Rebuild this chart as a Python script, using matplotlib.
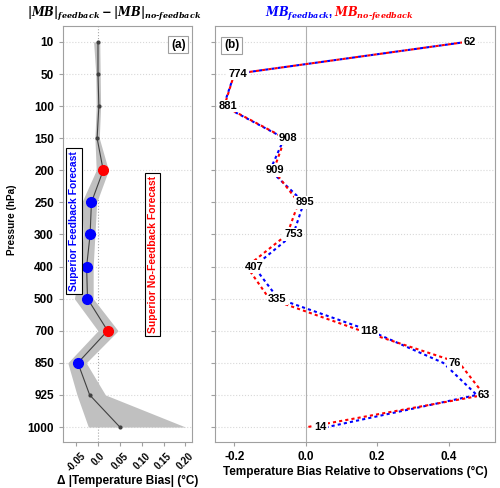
import matplotlib
matplotlib.use("Agg")
import matplotlib.pyplot as plt
import numpy as np

plt.rcParams["font.family"] = ["Liberation Sans", "DejaVu Sans"]
plt.rcParams["font.weight"] = "bold"
plt.rcParams["mathtext.fontset"] = "dejavuserif"

# ==========================================
# DATA
# ==========================================

levels = ["10", "50", "100", "150", "200", "250", "300", "400", "500", "700", "850", "925", "1000"]

# panel (a): |MB|feedback - |MB|no-feedback
diff_mean = [0.0, 0.0, 0.002, -0.002, 0.012, -0.015, -0.018, -0.026, -0.024, 0.022, -0.046, -0.019, 0.05]
diff_low = [-0.010, -0.005, -0.004, -0.007, -0.004, -0.037, -0.034, -0.040, -0.054, 0.0, -0.069, -0.048, -0.022]
diff_high = [0.004, 0.005, 0.006, 0.003, 0.024, -0.003, -0.007, -0.011, -0.011, 0.046, -0.027, 0.017, 0.20]
significant = [False, False, False, False, True, True, True, True, True, True, True, False, False]

# panel (b): mean bias vs observations
mb_feedback = [0.45, -0.20, -0.23, -0.06, -0.10, -0.005, -0.035, -0.145, -0.077, 0.18, 0.385, 0.479, 0.06]
mb_nofeedback = [0.45, -0.20, -0.228, -0.058, -0.09, -0.02, -0.052, -0.165, -0.102, 0.155, 0.43, 0.50, 0.005]
obs_counts = [62, 774, 881, 908, 909, 895, 753, 407, 335, 118, 76, 63, 14]

ypos = np.arange(len(levels))

# ==========================================
# FIGURE
# ==========================================

fig = plt.figure(figsize=(5.0, 4.88), dpi=100)
ax1 = fig.add_axes([0.126, 0.094, 0.258, 0.853])
ax2 = fig.add_axes([0.430, 0.094, 0.560, 0.853])

for ax in (ax1, ax2):
    ax.set_ylim(12.47, -0.5)
    ax.set_yticks(ypos)
    for y in ypos:
        ax.axhline(y, color="#d8d8d8", lw=0.8, ls=":", zorder=0)
    for s in ax.spines.values():
        s.set_color("#a0a0a0")
    ax.tick_params(color="#a0a0a0", length=3)

ax1.axvline(0, color="#a8a8a8", lw=0.8, ls=":", zorder=0)
ax2.axvline(0, color="#b0b0b0", lw=0.8, zorder=0)

# ------------------------------------------
# (a)
# ------------------------------------------

ax1.fill_betweenx(ypos, diff_low, diff_high, color="#c0c0c0", lw=0, zorder=1)
ax1.plot(diff_mean, ypos, color="#404040", lw=0.8, marker="o", ms=2, zorder=2)
for x, y, sig in zip(diff_mean, ypos, significant):
    if sig:
        ax1.plot(x, y, "o", color="red" if x > 0 else "blue", ms=7, zorder=3)

ax1.set_xlim(-0.08, 0.215)
ax1.set_xticks([-0.05, 0.0, 0.05, 0.10, 0.15, 0.20])
ax1.set_xticklabels(["-0.05", "0.0", "0.05", "0.10", "0.15", "0.20"],
                    rotation=45, fontsize=7, fontweight="bold")
ax1.set_yticklabels(levels, fontsize=8.5, fontweight="bold")
ax1.set_xlabel("Δ |Temperature Bias| (°C)", fontsize=8.5, fontweight="bold", labelpad=1)
fig.text(0.024, 0.55, "Pressure (hPa)", rotation=90, ha="center", va="center",
         fontsize=7.2, fontweight="bold")

ax1.text(-0.055, 5.58, "Superior Feedback Forecast", color="blue", rotation=90,
         ha="center", va="center", fontsize=7.5, fontweight="bold",
         bbox=dict(facecolor="white", edgecolor="black", lw=0.8, pad=2))
ax1.text(0.125, 6.62, "Superior No-Feedback Forecast", color="red", rotation=90,
         ha="center", va="center", fontsize=7.5, fontweight="bold",
         bbox=dict(facecolor="white", edgecolor="black", lw=0.8, pad=2))
ax1.text(0.95, 0.955, "(a)", transform=ax1.transAxes, ha="right", va="center",
         fontsize=8.5, fontweight="bold",
         bbox=dict(facecolor="white", edgecolor="#a0a0a0", lw=0.8, pad=2))

# ------------------------------------------
# (b)
# ------------------------------------------

ax2.plot(mb_feedback, ypos, color="blue", lw=1.5, ls=(0, (1.5, 1.5)), zorder=2)
ax2.plot(mb_nofeedback, ypos, color="red", lw=1.5, ls=(1.5, (1.5, 1.5)), zorder=2)
for fb, nfb, y, n in zip(mb_feedback, mb_nofeedback, ypos, obs_counts):
    ax2.text((fb + nfb) / 2 + 0.01, y, str(n), ha="center", va="center",
             fontsize=8, fontweight="bold", zorder=4,
             bbox=dict(facecolor="white", edgecolor="none", pad=1))

ax2.set_xlim(-0.254, 0.53)
ax2.set_xticks([-0.2, 0.0, 0.2, 0.4])
ax2.set_xticklabels(["-0.2", "0.0", "0.2", "0.4"], fontsize=8.5, fontweight="bold")
ax2.set_yticklabels([])
ax2.set_xlabel("Temperature Bias Relative to Observations (°C)",
               fontsize=8.5, fontweight="bold", labelpad=2)
ax2.text(0.06, 0.953, "(b)", transform=ax2.transAxes, ha="center", va="center",
         fontsize=8.5, fontweight="bold",
         bbox=dict(facecolor="white", edgecolor="#a0a0a0", lw=0.8, pad=2))

# ------------------------------------------
# titles
# ------------------------------------------

fig.text(0.228, 0.972,
         r"$\mathbfit{|MB|}_{\mathbfit{feedback}}-\mathbfit{|MB|}_{\mathbfit{no\text{-}feedback}}$",
         ha="center", va="center", fontsize=8.3)
fig.text(0.667, 0.972, r"$\mathbfit{MB}_{\mathbfit{feedback}}$,", color="blue",
         ha="right", va="center", fontsize=8.3)
fig.text(0.669, 0.972, r"$\mathbfit{MB}_{\mathbfit{no\text{-}feedback}}$", color="red",
         ha="left", va="center", fontsize=8.3)

plt.savefig("out.png", dpi=100)
plt.close()
